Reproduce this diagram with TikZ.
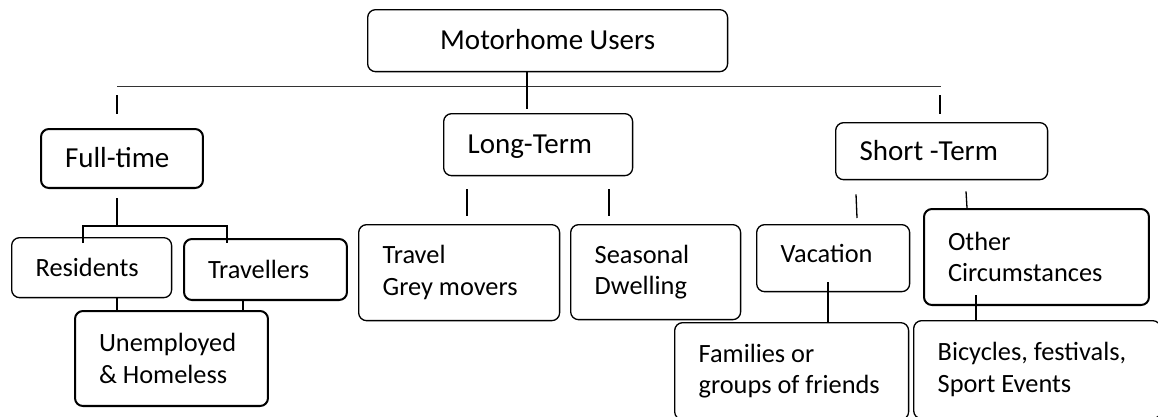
\documentclass[tikz,border=0pt]{standalone}
\usepackage{fontspec}
\setmainfont{Carlito}
\usetikzlibrary{calc}
\tikzset{
  frame/.style={draw, rounded corners=4.5pt, line width=0.75pt, anchor=north west, inner ysep=0pt},
  box/.style={frame, align=flush left, inner xsep=0pt, text height=13.2pt, text depth=3.5pt,
    execute at begin node={\leftskip=0.48cm\relax}, font=\fontsize{15}{18}\selectfont},
  twoline/.style={box, text height={}, text depth={}},
  bigbox/.style={box, text height=14.1pt, font=\fontsize{16.5}{19}\selectfont},
  boldbox/.style={line width=1.15pt},
  link/.style={line width=0.75pt},
  heavy/.style={line width=1.5pt},
}
\begin{document}
\begin{tikzpicture}[x=0.02cm, y=-0.02cm]
  \clip (0,0) rectangle (1158,416);
  % top level
  \node[frame, align=center, inner xsep=0pt, minimum width=7.2cm, minimum height=1.24cm,
    text height=14.1pt, text depth=3.5pt, font=\fontsize{16.5}{19}\selectfont] (mu) at (367,9) {Motorhome Users};
  \coordinate (hl) at (117,86);
  \coordinate (hr) at (941,86);
  \draw[line width=0.55pt, black!80] (hl) -- (hr);
  \draw[link] ($(mu.south west)+(160,0)$) -- ++(0,37);
  \draw[heavy] ($(hl)+(0,9)$) -- ++(0,19);
  \draw[link] ($(hr)+(-1,9)$) -- ++(0,19);
  % second level
  \node[bigbox, boldbox, text width=3.24cm, minimum height=1.18cm] (ft) at (40,128) {Full-time};
  \node[bigbox, text width=3.78cm, minimum height=1.24cm] (lt) at (443,113) {Long-Term};
  \node[bigbox, text width=4.24cm, minimum height=1.14cm] (st) at (835,122) {Short -Term};
  % full-time branch
  \node[box, text width=3.2cm, minimum height=1.2cm] (res) at (11,237) {Residents};
  \node[box, boldbox, text width=3.26cm, minimum height=1.22cm] (trv) at (183,238) {Travellers};
  \node[twoline, boldbox, text width=3.86cm, minimum height=1.9cm] (une) at (74,310) {Unemployed\\\& Homeless};
  \draw[heavy] ($(ft.south west)+(77,9)$) -- ++(0,28) coordinate (fb);
  \draw[heavy] ($(res.north west)+(72,6)$) |- (fb) -| ($(trv.north west)+(44,5)$);
  \draw[heavy] ($(res.south west)+(106,0)$) -- ($(une.north west)+(43,0)$);
  \draw[heavy] ($(trv.south west)+(60,0)$) -- ($(une.north west)+(169,0)$);
  % long-term branch
  \node[twoline, text width=4.02cm, minimum height=1.92cm] (tgm) at (358,224) {Travel\\Grey movers};
  \node[twoline, text width=3.4cm, minimum height=1.9cm] (sea) at (570,224) {Seasonal\\Dwelling};
  \draw[link] ($(lt.south west)+(24,13)$) -- ($(tgm.north west)+(109,-8)$);
  \draw[link] ($(lt.south west)+(166,13)$) -- ($(sea.north west)+(39,-8)$);
  % short-term branch
  \node[box, text width=3.06cm, minimum height=1.34cm, text height=8.6pt] (vac) at (756,224) {Vacation};
  \node[twoline, boldbox, text width=4.5cm, minimum height=1.92cm] (oth) at (923,208) {Other\\Circumstances};
  \node[twoline, text width=4.68cm, minimum height=1.94cm] (fam) at (674,322) {Families or\\groups of friends};
  \node[twoline, text width=4.94cm, minimum height=1.96cm] (bic) at (913,320) {Bicycles, festivals,\\Sport Events};
  \draw[link] ($(st.south west)+(21,14)$) -- ($(vac.north west)+(101,-6)$);
  \draw[link] ($(st.south west)+(131,11)$) -- ($(oth.north west)+(44,0)$);
  \draw[heavy] ($(vac.south west)+(72,-10)$) -- ($(fam.north west)+(154,0)$);
  \draw[heavy] ($(oth.south west)+(53,-11)$) -- ($(bic.north west)+(63,0)$);
\end{tikzpicture}
\end{document}
